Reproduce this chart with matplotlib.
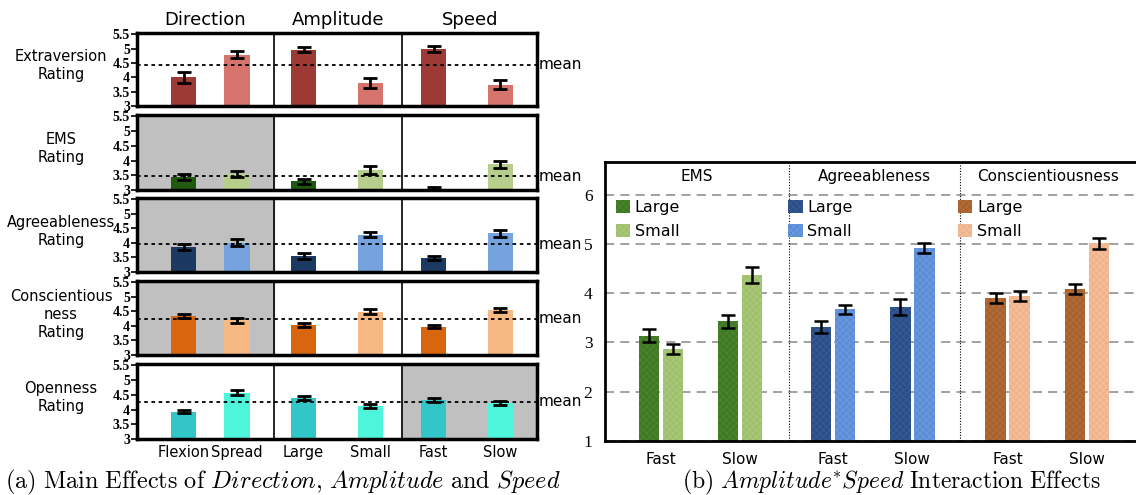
import numpy as np
import matplotlib.pyplot as plt
from matplotlib.patches import Patch
from matplotlib.legend import Legend

plt.rcParams['mathtext.fontset'] = 'cm'
plt.rcParams['hatch.linewidth'] = 0.4

# (a) main effects, order: Flexion, Spread, Large, Small, Fast, Slow
conditions = ["Flexion", "Spread", "Large", "Small", "Fast", "Slow"]
factors = ["Direction", "Amplitude", "Speed"]

extraversion = [4.0, 4.79, 4.97, 3.8, 5.0, 3.75]
extraversion_err = [0.19, 0.13, 0.1, 0.18, 0.1, 0.17]
ems = [3.44, 3.54, 3.29, 3.68, 3.02, 3.88]
ems_err = [0.1, 0.1, 0.08, 0.12, 0.08, 0.12]
agreeableness = [3.86, 4.0, 3.55, 4.29, 3.48, 4.34]
agreeableness_err = [0.1, 0.12, 0.1, 0.1, 0.08, 0.12]
conscientiousness = [4.33, 4.19, 4.03, 4.49, 3.98, 4.55]
conscientiousness_err = [0.07, 0.08, 0.07, 0.08, 0.06, 0.08]
openness = [3.93, 4.58, 4.4, 4.12, 4.32, 4.21]
openness_err = [0.06, 0.07, 0.07, 0.07, 0.06, 0.07]

trait_means = [4.44, 3.46, 3.96, 4.25, 4.27]
trait_labels = ["Extraversion\nRating", "EMS\nRating", "Agreeableness\nRating",
                "Conscientious\nness\nRating", "Openness\nRating"]
yticks_a = [3, 3.5, 4, 4.5, 5, 5.5]

# (b) amplitude*speed interaction, order: Fast, Slow
speeds = ["Fast", "Slow"]
groups = ["EMS", "Agreeableness", "Conscientiousness"]
ems_large = [3.14, 3.43]
ems_large_err = [0.13, 0.13]
ems_small = [2.86, 4.37]
ems_small_err = [0.1, 0.16]
agree_large = [3.31, 3.72]
agree_large_err = [0.12, 0.16]
agree_small = [3.67, 4.92]
agree_small_err = [0.09, 0.1]
consc_large = [3.9, 4.09]
consc_large_err = [0.1, 0.1]
consc_small = [3.95, 5.01]
consc_small_err = [0.1, 0.11]
yticks_b = [1, 2, 3, 4, 5, 6]

W, H = 1136, 495
fig = plt.figure(figsize=(W/100, H/100), dpi=100)

def box(x0, y0, x1, y1):
    return [x0/W, 1 - y1/H, (x1 - x0)/W, (y1 - y0)/H]

# ---- panel (a) ----
rows = [(extraversion, extraversion_err), (ems, ems_err), (agreeableness, agreeableness_err),
        (conscientiousness, conscientiousness_err), (openness, openness_err)]
row_colors = [("#9e3a36", "#d4746c"), ("#1f5a10", "#b6cd8b"), ("#1c3962", "#76a3dd"),
              ("#d8660f", "#f7b984"), ("#33c6c8", "#4ff5da")]
gray_col = [None, 0, 0, 0, 2]
row_px = [(33, 106), (115, 190), (198, 272), (281, 355), (364, 439)]
bar_x = [0.7, 1.5, 2.5, 3.5, 4.45, 5.45]
dividers = [0, 2.05, 3.98, 6]

for i, ((vals, errs), cols, (top, bot)) in enumerate(zip(rows, row_colors, row_px)):
    ax = fig.add_axes(box(137, top, 537, bot))
    if gray_col[i] is not None:
        g = gray_col[i]
        ax.axvspan(dividers[g], dividers[g + 1], color="#c0c0c0", zorder=0)
    ax.bar(bar_x, vals, width=0.38, bottom=0, color=[cols[0], cols[1]] * 3, zorder=2)
    ax.errorbar(bar_x, vals, yerr=errs, fmt='none', ecolor='black', elinewidth=2,
                capsize=5, capthick=2, zorder=3)
    for d in dividers[1:-1]:
        ax.axvline(d, color='black', lw=1.2, zorder=4)
    ax.axhline(trait_means[i], color='black', lw=1.3, ls=(0, (2, 2)), zorder=5)
    ax.set_xlim(0, 6)
    ax.set_ylim(3, 5.55)
    ax.set_yticks(yticks_a)
    ax.set_yticklabels([f"{t:g}" for t in yticks_a], family="Liberation Serif",
                       fontsize=10, fontweight='bold')
    ax.tick_params(axis='y', length=4, width=1.2, pad=1)
    for s in ax.spines.values():
        s.set_linewidth(2.5)
    ax.text(1.004, trait_means[i], "mean", transform=ax.get_yaxis_transform(),
            va='center', ha='left', fontsize=11)
    ax.text(-0.19, 0.55, trait_labels[i], transform=ax.transAxes, ha='center',
            va='center', fontsize=10.5, linespacing=1.25)
    if i == len(rows) - 1:
        ax.set_xticks(bar_x)
        ax.set_xticklabels(conditions, fontsize=10.5)
        ax.tick_params(axis='x', length=0, pad=4)
    else:
        ax.set_xticks([])
    if i == 0:
        for k, f in enumerate(factors):
            ax.text((dividers[k] + dividers[k + 1]) / 2, 1.05, f, transform=ax.get_xaxis_transform(),
                    ha='center', va='bottom', fontsize=13)

fig.text(5/W, 1 - 482/H,
         r"$\mathrm{(a)\ Main\ Effects\ of\ }\mathit{Direction}\mathrm{,}\ \mathit{Amplitude}"
         r"\mathrm{\ and\ }\mathit{Speed}$", fontsize=17.5, va='center', ha='left')

# ---- panel (b) ----
axb = fig.add_axes(box(605, 162, 1136, 441))
group_x = [0, 2.0, 4.03]
slow_off = 0.92
off = 0.14
bw = 0.24
series = [((ems_large, ems_large_err), (ems_small, ems_small_err)),
          ((agree_large, agree_large_err), (agree_small, agree_small_err)),
          ((consc_large, consc_large_err), (consc_small, consc_small_err))]
b_colors = [("#3f7a22", "#9fc06c"), ("#2b4f85", "#5b8ed6"), ("#a8622e", "#f0b48c")]
hatch_colors = [("#52893a", "#b2cd86"), ("#3b62a0", "#74a2e0"), ("#b9733e", "#f6c6a6")]
legend_x = [0.02, 0.345, 0.665]

for yv in yticks_b:
    axb.axhline(yv, color='#888888', lw=1.1, ls=(0, (6, 4)), zorder=0)

for g, (gx, (large, small), cols, hcols) in enumerate(zip(group_x, series, b_colors, hatch_colors)):
    xs = np.array([gx, gx + slow_off])
    axb.bar(xs - off, large[0], width=bw, color=cols[0], edgecolor=hcols[0],
            hatch='xxxxx', lw=0, zorder=2)
    axb.bar(xs + off, small[0], width=bw, color=cols[1], edgecolor=hcols[1],
            hatch='xxxxx', lw=0, zorder=2)
    axb.errorbar(xs - off, large[0], yerr=large[1], fmt='none', ecolor='black',
                 elinewidth=1.8, capsize=5, capthick=1.8, zorder=3)
    axb.errorbar(xs + off, small[0], yerr=small[1], fmt='none', ecolor='black',
                 elinewidth=1.8, capsize=5, capthick=1.8, zorder=3)
    handles = [Patch(facecolor=cols[0], edgecolor=hcols[0], hatch='xxxxx', lw=0),
               Patch(facecolor=cols[1], edgecolor=hcols[1], hatch='xxxxx', lw=0)]
    leg = Legend(axb, handles, ["Large", "Small"], loc='upper left',
                 bbox_to_anchor=(legend_x[g], 0.865), frameon=False, fontsize=11.5,
                 handlelength=0.9, handleheight=0.9, handletextpad=0.3,
                 labelspacing=0.55, borderaxespad=0, borderpad=0)
    axb.add_artist(leg)

xl = (-0.65, 5.52)
div_b = [xl[0], 1.49, 3.48, xl[1]]
for d in div_b[1:-1]:
    axb.axvline(d, color='black', lw=0.8, ls=(0, (1, 1.5)), zorder=1)
for g, name in enumerate(groups):
    axb.text((div_b[g] + div_b[g + 1]) / 2, 6.37, name, ha='center', va='center', fontsize=11)

tick_x = [gx + s * slow_off for gx in group_x for s in range(2)]
axb.set_xticks(tick_x)
axb.set_xticklabels(speeds * 3, fontsize=11)
axb.tick_params(axis='x', length=0, pad=8)
axb.set_xlim(*xl)
axb.set_ylim(1, 6.66)
axb.set_yticks(yticks_b)
axb.set_yticklabels([str(t) for t in yticks_b], family="Liberation Serif", fontsize=12.5)
axb.tick_params(axis='y', length=0, pad=9)
axb.spines['right'].set_visible(False)
for s in ['left', 'bottom', 'top']:
    axb.spines[s].set_linewidth(2)

fig.text(891/W, 1 - 482/H,
         r"$\mathrm{(b)\ }\mathit{Amplitude}{}^{*}\mathit{Speed}\mathrm{\ Interaction\ Effects}$",
         fontsize=17, va='center', ha='center')

fig.savefig("out.png", dpi=100)
